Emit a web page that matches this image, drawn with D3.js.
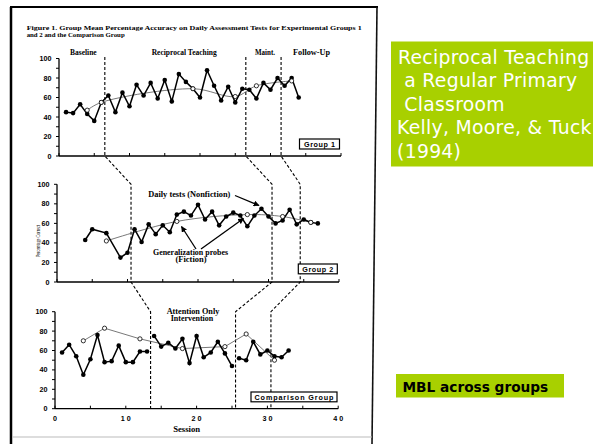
<!DOCTYPE html>
<html><head><meta charset="utf-8">
<script src="https://cdn.jsdelivr.net/npm/d3@7"></script>
<style>html,body{margin:0;padding:0;background:#fff;overflow:hidden}</style>
</head><body>
<svg id="c" width="593" height="444" xmlns="http://www.w3.org/2000/svg"></svg>
<script>
// ---------- DATA ----------
const g1Sessions = [1,2,3,4,5,6,7,8,9,10,11,12,13,14,15,16,17,18,19,20,21,22,23,24,25,26,27,28,29,30,31,32,33,34];
const g1Values   = [45,44,53,43,36,55,62,45,65,51,73,62,75,59,78,56,84,76,69,60,88,72,57,71,55,69,68,59,75,68,80,72,80,60];
const g1ProbeSessions = [4,6,19,25,28,33];
const g1ProbeValues   = [47,55,69,61,72,77];
const g1Phases = [6.5, 26.5, 31.5];

const g2Sessions = [4,5,7,9,10,11,12,13,14,15,16,17,18,19,20,21,22,23,24,25,26,27,28,29,30,31,32,33,34,35,36,37];
const g2Values   = [43,54,50,25,30,54,41,59,49,58,51,69,72,68,79,64,72,58,67,71,68,57,68,75,67,60,63,74,59,64,61,60];
const g2ProbeSessions = [7,17,27,32,36];
const g2ProbeValues   = [42,62,69,67,61];
const g2Phases = [10.5, 30.5, 34.5];

const cgSessions = [1,2,3,4,5,6,7,8,9,10,11,12,13,14,15,16,17,18,19,20,21,22,23,24,25,26,27,28,29,30,31,32,33];
const cgValues   = [58,66,54,35,51,76,48,49,65,48,48,59,59,75,64,68,62,72,47,75,53,58,69,57,44,52,50,69,56,60,54,53,60];
const cgProbeSessions = [4,7,12,18,24,27,31];
const cgProbeValues   = [70,83,72,62,64,77,50];
const cgPhases = [13.5, 25.5, 30.5];
const cgBreaks = [13.5, 25.5];

const yTicks = [0,20,40,60,80,100];
const yMinorTicks = [0,10,20,30,40,50,60,70,80,90,100];
const xTicks = [0,5,10,15,20,25,30,35,40];
const xTickLabels = [[0,"0"],[10,"1 0"],[20,"2 0"],[30,"3 0"],[40,"4 0"]];

const titleLines = ["Figure 1. Group Mean Percentage Accuracy on Daily Assessment Tests for Experimental Groups 1",
                    "and 2 and the Comparison Group"];
const phaseLabels = ["Baseline","Reciprocal Teaching","Maint.","Follow-Up"];
const sideLines = ["Reciprocal Teaching"," a Regular Primary"," Classroom","Kelly, Moore, & Tuck","(1994)"];

// ---------- DRAW ----------
const svg = d3.select("#c");
const SERIF = "'Liberation Serif','DejaVu Serif',serif";
const SANS = "'Liberation Sans',Arial,sans-serif";

svg.append("defs").append("marker")
  .attr("id","ah").attr("viewBox","0 0 10 10").attr("refX",9).attr("refY",5)
  .attr("markerWidth",6).attr("markerHeight",6).attr("orient","auto")
  .attr("markerUnits","userSpaceOnUse")
  .append("path").attr("d","M0,0L10,5L0,10z").attr("fill","#000");

// frame of scanned figure
svg.append("line").attr("x1",11).attr("y1",7).attr("x2",11).attr("y2",444).attr("stroke","#000").attr("stroke-width",2.5);
svg.append("line").attr("x1",10).attr("y1",7).attr("x2",378).attr("y2",7).attr("stroke","#000").attr("stroke-width",2);
svg.append("line").attr("x1",377).attr("y1",7).attr("x2",372).attr("y2",444).attr("stroke","#111").attr("stroke-width",1.6);
svg.append("line").attr("x1",12).attr("y1",437).attr("x2",372).attr("y2",437).attr("stroke","#bbb").attr("stroke-width",1);

// title
svg.append("text").attr("x",26.7).attr("y",29.8).attr("font-family",SERIF).attr("font-weight","bold")
  .attr("font-size",6.4).attr("textLength",335).attr("lengthAdjust","spacingAndGlyphs").text(titleLines[0]);
svg.append("text").attr("x",26.7).attr("y",36.6).attr("font-family",SERIF).attr("font-weight","bold")
  .attr("font-size",6.4).attr("textLength",98).attr("lengthAdjust","spacingAndGlyphs").text(titleLines[1]);

// phase labels
const phaseLabelPos = [[70,26.7],[151.7,65],[255,20],[293,37]];
phaseLabels.forEach((t,i)=>{
  svg.append("text").attr("x",phaseLabelPos[i][0]).attr("y",54.5).attr("font-family",SERIF).attr("font-weight","bold")
    .attr("font-size",7.4).attr("textLength",phaseLabelPos[i][1]).attr("lengthAdjust","spacingAndGlyphs").text(t);
});

// panels
const panels = [
  {x0:59, x1:341, y0:156, y100:58.5},
  {x0:57, x1:339, y0:282, y100:184.3},
  {x0:55, x1:338.2, y0:408.7, y100:311.7}
];
panels.forEach(p=>{
  p.x = d3.scaleLinear().domain([0,40]).range([p.x0,p.x1]);
  p.y = d3.scaleLinear().domain([0,100]).range([p.y0,p.y100]);
});

function drawAxes(p, withLabels){
  const g = svg.append("g");
  g.append("line").attr("x1",p.x0).attr("x2",p.x0).attr("y1",p.y(0)).attr("y2",p.y(100)).attr("stroke","#000").attr("stroke-width",1.3);
  yMinorTicks.forEach(v=>{
    g.append("line").attr("x1",p.x0-3).attr("x2",p.x0).attr("y1",p.y(v)).attr("y2",p.y(v)).attr("stroke","#000").attr("stroke-width",1);
  });
  yTicks.forEach(v=>{
    g.append("text").attr("x",p.x0-7.5).attr("y",p.y(v)+2.5).attr("text-anchor","end")
      .attr("font-family",SANS).attr("font-weight","bold").attr("font-size",7.2).text(v);
  });
  g.append("line").attr("x1",p.x0).attr("x2",p.x(40)).attr("y1",p.y(0)).attr("y2",p.y(0)).attr("stroke","#000").attr("stroke-width",1.3);
  xTicks.forEach(v=>{
    g.append("line").attr("x1",p.x(v)).attr("x2",p.x(v)).attr("y1",p.y(0)).attr("y2",p.y(0)-3).attr("stroke","#000").attr("stroke-width",1);
  });
  if(withLabels){
    xTickLabels.forEach(([v,t])=>{
      g.append("text").attr("x",p.x(v)).attr("y",420.5).attr("text-anchor","middle")
        .attr("font-family",SANS).attr("font-weight","bold").attr("font-size",7.2).text(t);
    });
  }
}
drawAxes(panels[0],false);
drawAxes(panels[1],false);
drawAxes(panels[2],true);

// dashed phase-change lines connecting panels
const phaseSets = [g1Phases, g2Phases, cgPhases];
for(let i=0;i<3;i++){
  const pts = [
    [panels[0].x(phaseSets[0][i]), panels[0].y(101.5)],
    [panels[0].x(phaseSets[0][i]), panels[0].y(0)],
    [panels[1].x(phaseSets[1][i]), panels[1].y(100)],
    [panels[1].x(phaseSets[1][i]), panels[1].y(0)],
    [panels[2].x(phaseSets[2][i]), panels[2].y(100)],
    [panels[2].x(phaseSets[2][i]), panels[2].y(0)]
  ];
  svg.append("path").attr("d",d3.line()(pts)).attr("fill","none").attr("stroke","#000")
    .attr("stroke-width",1.1).attr("stroke-dasharray","3,2");
}

function drawSeries(p, sess, vals, probeS, probeV, curve, breaks){
  const data = sess.map((s,i)=>[s,vals[i]]);
  const probes = probeS.map((s,i)=>[s,probeV[i]]);
  const line = d3.line().x(d=>p.x(d[0])).y(d=>p.y(d[1]));
  svg.append("path").attr("d",d3.line().x(d=>p.x(d[0])).y(d=>p.y(d[1])).curve(curve)(probes))
    .attr("fill","none").attr("stroke","#555").attr("stroke-width",0.8);
  const segs = [];
  let cur = [];
  data.forEach((d,i)=>{
    if(i>0 && breaks.some(b=>data[i-1][0]<b && d[0]>b)){ segs.push(cur); cur=[]; }
    cur.push(d);
  });
  segs.push(cur);
  segs.forEach(s=>{
    svg.append("path").attr("d",line(s)).attr("fill","none").attr("stroke","#000").attr("stroke-width",1.5);
  });
  svg.append("g").selectAll("circle").data(data).join("circle")
    .attr("cx",d=>p.x(d[0])).attr("cy",d=>p.y(d[1])).attr("r",2.3).attr("fill","#000");
  svg.append("g").selectAll("circle").data(probes).join("circle")
    .attr("cx",d=>p.x(d[0])).attr("cy",d=>p.y(d[1])).attr("r",2.1).attr("fill","#fff")
    .attr("stroke","#000").attr("stroke-width",0.8);
}
drawSeries(panels[0], g1Sessions, g1Values, g1ProbeSessions, g1ProbeValues, d3.curveCatmullRom, []);
drawSeries(panels[1], g2Sessions, g2Values, g2ProbeSessions, g2ProbeValues, d3.curveCatmullRom, []);
drawSeries(panels[2], cgSessions, cgValues, cgProbeSessions, cgProbeValues, d3.curveLinear, cgBreaks);

// group boxes
function box(x,y,w,h,t,tl){
  svg.append("rect").attr("x",x).attr("y",y).attr("width",w).attr("height",h).attr("fill","#fff")
    .attr("stroke","#000").attr("stroke-width",1.2);
  svg.append("text").attr("x",x+(w-tl)/2).attr("y",y+h/2+2.6).attr("font-family",SANS).attr("font-weight","bold")
    .attr("font-size",7.2).attr("textLength",tl).attr("lengthAdjust","spacing").text(t);
}
box(299.5,139,40,10,"Group  1",31);
box(298.3,264,39,9.8,"Group  2",31);
box(251,392,86,9.8,"Comparison  Group",79);

// annotations group 2
svg.append("text").attr("x",148.3).attr("y",196.5).attr("font-family",SERIF).attr("font-weight","bold")
  .attr("font-size",7.2).attr("textLength",82).attr("lengthAdjust","spacingAndGlyphs").text("Daily tests (Nonfiction)");
svg.append("line").attr("x1",235).attr("y1",195.5).attr("x2",259).attr("y2",205.5).attr("stroke","#000")
  .attr("stroke-width",1.3).attr("marker-end","url(#ah)");
svg.append("text").attr("x",153).attr("y",255).attr("font-family",SERIF).attr("font-weight","bold")
  .attr("font-size",7.2).attr("textLength",75).attr("lengthAdjust","spacingAndGlyphs").text("Generalization probes");
svg.append("text").attr("x",175.5).attr("y",262.3).attr("font-family",SERIF).attr("font-weight","bold")
  .attr("font-size",7.2).attr("textLength",31).attr("lengthAdjust","spacingAndGlyphs").text("(Fiction)");
svg.append("line").attr("x1",196).attr("y1",249).attr("x2",181.5).attr("y2",226.5).attr("stroke","#000")
  .attr("stroke-width",1.3).attr("marker-end","url(#ah)");
svg.append("line").attr("x1",201).attr("y1",249).attr("x2",243.5).attr("y2",218.5).attr("stroke","#000")
  .attr("stroke-width",1.3).attr("marker-end","url(#ah)");

// comparison annotations
svg.append("text").attr("x",166.7).attr("y",314).attr("font-family",SERIF).attr("font-weight","bold")
  .attr("font-size",7.2).attr("textLength",52.6).attr("lengthAdjust","spacingAndGlyphs").text("Attention Only");
svg.append("text").attr("x",170.7).attr("y",320.5).attr("font-family",SERIF).attr("font-weight","bold")
  .attr("font-size",7.2).attr("textLength",42.6).attr("lengthAdjust","spacingAndGlyphs").text("Intervention");

// axis titles
svg.append("text").attr("transform","translate(39.5,241) rotate(-90)").attr("text-anchor","middle")
  .attr("font-family",SERIF).attr("font-size",6.5).attr("textLength",32).attr("lengthAdjust","spacingAndGlyphs")
  .text("Percentage Correct");
svg.append("text").attr("x",186.7).attr("y",432).attr("text-anchor","middle").attr("font-family",SERIF)
  .attr("font-weight","bold").attr("font-size",7.2).attr("textLength",27).attr("lengthAdjust","spacingAndGlyphs").text("Session");

// right side boxes
const GREEN = "#a8d000";
svg.append("rect").attr("x",391).attr("y",41.5).attr("width",210).attr("height",125).attr("fill",GREEN);
const sideX = [398,398,398,397,397];
const sideY = [63.5,87.3,110.8,134.4,158.3];
sideLines.forEach((t,i)=>{
  svg.append("text").attr("x",sideX[i]).attr("y",sideY[i]).attr("fill","#fff")
    .attr("font-family","'DejaVu Sans',Verdana,sans-serif").attr("font-size",18.8)
    .attr("letter-spacing",0.3).style("white-space","pre").text(t);
});
svg.append("rect").attr("x",396).attr("y",374).attr("width",168).attr("height",23.5).attr("fill",GREEN);
svg.append("text").attr("x",402.5).attr("y",391.5).attr("fill","#000")
  .attr("font-family","'DejaVu Sans',Verdana,sans-serif").attr("font-weight","bold").attr("font-size",13.7)
  .text("MBL across groups");
</script>
</body></html>
